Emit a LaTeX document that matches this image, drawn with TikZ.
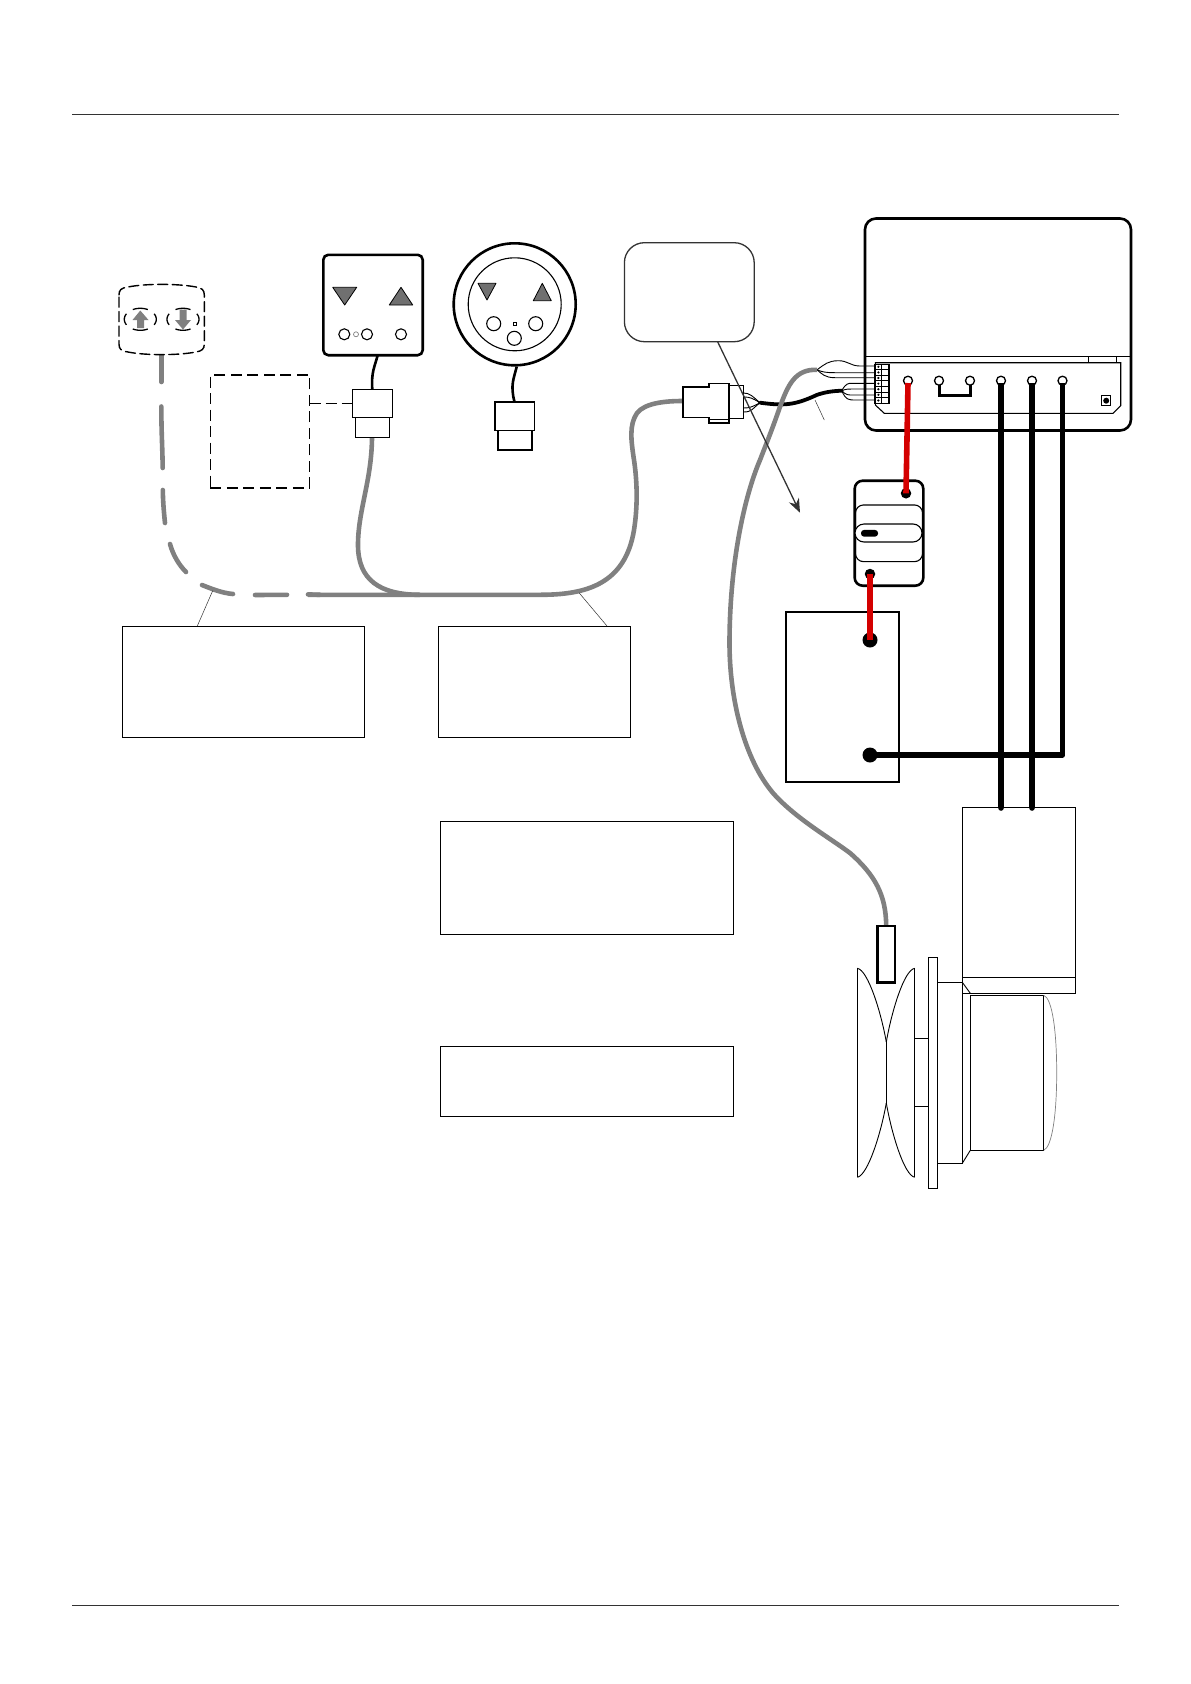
\documentclass[tikz,border=0pt]{standalone}
\usetikzlibrary{arrows.meta}
\definecolor{cablegray}{HTML}{808080}
\definecolor{cablered}{HTML}{D40000}
\definecolor{trigray}{HTML}{707070}
\definecolor{leaddark}{HTML}{333333}
\tikzset{
  rectnode/.style={draw=black,fill=white,inner sep=0pt,outer sep=0pt,rectangle},
  textbox/.style={rectnode,line width=0.9pt},
  plugbox/.style={rectnode,line width=1.6pt},
  graycable/.style={draw=cablegray,line width=4.6pt},
  graydash/.style={draw=cablegray,line width=4.6pt,line cap=round},
  blackcable/.style={draw=black,line width=5.6pt,line cap=round,line join=round},
  redcable/.style={draw=cablered,line width=5.6pt},
  thinwire/.style={draw=black,line width=0.9pt},
  termring/.style={circle,draw=black,fill=white,line width=1.3pt,minimum size=9pt,inner sep=0pt,outer sep=0pt},
  pinring/.style={circle,draw=black,fill=white,line width=1.1pt,inner sep=0pt,outer sep=0pt},
  blackdot/.style={circle,fill=black,inner sep=0pt,outer sep=0pt},
  tri/.style={fill=trigray,draw=black,line width=0.8pt,line join=round},
  engine/.style={draw=black,line width=0.9pt},
  rule/.style={draw=leaddark,line width=0.8pt},
  leader/.style={draw=leaddark,line width=0.5pt},
  dashbox/.style={draw=black,line width=1.1pt,dash pattern=on 11pt off 5.5pt},
  ringdash/.style={draw=black,line width=1.3pt},
}
\begin{document}
\begin{tikzpicture}[x=1pt,y=-1pt]
\useasboundingbox (0,0) rectangle (1191,1684);
\fill[white] (0,0) rectangle (1191,1684);

% page rules
\coordinate (ruleAL) at (72,114.6); \coordinate (ruleAR) at (1119,114.6);
\coordinate (ruleBL) at (72,1605.5); \coordinate (ruleBR) at (1119,1605.5);
\draw[rule] (ruleAL) -- (ruleAR);
\draw[rule] (ruleBL) -- (ruleBR);

% text boxes
\node[textbox,minimum width=241.7pt,minimum height=111.5pt] (t1) at (243.2,682) {};
\node[textbox,minimum width=192.5pt,minimum height=111.5pt] (t2) at (534.5,682) {};
\node[textbox,minimum width=293.5pt,minimum height=112.8pt] (t3) at (586.7,878) {};
\node[textbox,minimum width=293.5pt,minimum height=70pt] (t4) at (586.7,1081) {};

% gray main cable
\coordinate (jA) at (308,594.8);
\coordinate (jB) at (540,594.8);
\coordinate (plugL) at (682.7,401);
\draw[graycable] (jA) -- (jB)
  .. controls (585,594.8) and (625,585) .. (634,530)
  .. controls (638,505) and (637,480) .. (634,460)
  .. controls (631,440) and (629,425) .. (637,413)
  .. controls (645,403) and (665,401) .. (plugL);
\coordinate (pa) at (372,436);
\draw[graycable] (pa) .. controls (372,480) and (358,510) .. (358,545)
  .. controls (358,580) and (380,594.8) .. (420,594.8);

% dashed gray cable
\coordinate (rb) at (161.3,355);
\draw[graydash,line cap=butt] (rb) -- (161.3,372);
\draw[graydash] (161.3,372) -- (161.3,382);
\draw[graydash] (161.3,406.5) .. controls (161.3,430) and (162.5,450) .. (162.7,468);
\draw[graydash] (162.8,490) .. controls (163,503) and (164,513) .. (165,523);
\draw[graydash] (170,544) .. controls (173,555) and (179,565) .. (186,572);
\draw[graydash] (202,585) .. controls (212,589) and (222,593) .. (233,594);
\draw[graydash] (255,595) -- (287,594.8);
\draw[graydash] (308,594.4) -- (320,594.8);

% remote
\draw[draw=black,line width=1.4pt,dash pattern=on 10pt off 4.5pt,line cap=round]
  (119,295) .. controls (119,290) and (121,288) .. (128,287)
  .. controls (145,283.5) and (178,283.5) .. (196,287)
  .. controls (202,288) and (204.3,290) .. (204.3,295)
  -- (204.3,344) .. controls (204.3,349) and (202,351) .. (196,352)
  .. controls (178,355.5) and (145,355.5) .. (128,352)
  .. controls (121,351) and (119,349) .. (119,344) -- cycle;
\fill[cablegray] (140.3,310.5) -- (148.5,320) -- (144,320) -- (144,328) -- (137,328) -- (137,320) -- (132.5,320) -- cycle;
\fill[cablegray] (183,329.5) -- (191,320) -- (186.5,320) -- (186.5,309.5) -- (179.5,309.5) -- (179.5,320) -- (175,320) -- cycle;
\foreach \cx in {140.3,183}{
  \foreach \sa/\ea in {150/210,-30/30,62/118,242/298}{
    \draw[ringdash] plot[domain=\sa:\ea,samples=9,smooth] ({\cx+16*cos(\x)},{319.3+11*sin(\x)});
  }
}

% dashed box and plug A
\node[rectnode,dashbox,fill=none,minimum width=99.4pt,minimum height=113pt] (dbox) at (260,431.5) {};
\node[rectnode,line width=1.3pt,minimum width=34pt,minimum height=20.4pt] (pA2) at (372.3,427.5) {};
\node[rectnode,line width=1.3pt,minimum width=40.4pt,minimum height=28pt] (pA1) at (372.5,403.3) {};
\draw[draw=black,line width=1pt,dash pattern=on 11pt off 5pt] (dbox.east |- pA1.west) -- (pA1.west);

% square panel
\node[rectnode,line width=2.6pt,rounded corners=5pt,minimum width=99.4pt,minimum height=100.4pt] (sq) at (373,305) {};
\draw[tri] (332.7,287.3) -- (356.7,287.3) -- (344.7,305) -- cycle;
\draw[tri] (389.3,305) -- (412.7,305) -- (401,287.3) -- cycle;
\node[pinring,minimum size=11pt] (sa) at (344.3,334.3) {};
\node[pinring,minimum size=11pt] (sb) at (367,334.3) {};
\node[pinring,draw=cablegray,line width=0.7pt,minimum size=5pt] (sc) at (356,334.3) {};
\node[pinring,minimum size=11pt] (sd) at (401,334.3) {};
\coordinate (sqb) at (377.7,355);
\draw[draw=black,line width=2.6pt] (sqb) .. controls (375,366) and (371,372) .. (372.3,389.3);

% round panel
\node[circle,draw=black,fill=white,line width=2.6pt,minimum size=122pt,inner sep=0pt,outer sep=0pt] (ro) at (514.7,304.3) {};
\node[circle,draw=black,fill=white,line width=1.1pt,minimum size=93pt,inner sep=0pt,outer sep=0pt] (ri) at (514.7,304.3) {};
\draw[tri] (478,283.3) -- (496,283.3) -- (487,300) -- cycle;
\draw[tri] (533.3,300.7) -- (551.3,300.7) -- (542.3,283.3) -- cycle;
\node[pinring,minimum size=14pt] (ra) at (493.7,323.7) {};
\node[pinring,minimum size=14pt] (rb2) at (535.7,323.7) {};
\node[pinring,minimum size=14pt] (rc) at (514.3,338.3) {};
\node[draw=black,line width=0.8pt,minimum size=3pt,inner sep=0pt] (rd) at (514.7,323.7) {};
\node[rectnode,line width=1.6pt,minimum width=34pt,minimum height=19.7pt] (pB2) at (514.7,440.2) {};
\node[rectnode,line width=1.6pt,minimum width=39.6pt,minimum height=28.6pt] (pB1) at (514.5,416) {};
\coordinate (rob) at (516.7,366.7);
\draw[draw=black,line width=2.6pt] (rob) .. controls (514,378) and (510,385) .. (pB1.north);

% leaders
\coordinate (la) at (212.7,590.7);
\coordinate (lb) at (579,592.7);
\draw[leader] (la) -- (197.3,626);
\draw[leader] (lb) -- (607,626);

% callout
\node[rectnode,draw=leaddark,line width=1.3pt,rounded corners=20pt,minimum width=129.8pt,minimum height=99pt] (call) at (689.3,292.2) {};

% controller
\node[rectnode,line width=2.6pt,rounded corners=11pt,minimum width=266pt,minimum height=212pt] (ctl) at (998,324.5) {};
\coordinate (cL) at (865,356.7); \coordinate (cR) at (1131,356.7);
\draw[draw=black,line width=1.5pt] (cL) -- (cR);
\draw[draw=black,line width=1.1pt] (875.3,362.7) -- (1120.7,362.7) -- (1120.7,405.7) -- (1113,413.3) -- (884.3,413.3) -- (875.3,405) -- cycle;
\draw[draw=black,line width=1pt] (1088,356.7) -- (1088,362.7);
\draw[draw=black,line width=1pt] (1116.7,356.7) -- (1116.7,362.7);
\node[rectnode,line width=1.1pt,minimum width=9pt,minimum height=10pt] (fuse) at (1106.2,400.7) {};
\node[blackdot,minimum size=6pt] (fused) at (1106.2,400.7) {};

% wires, plug side
\coordinate (fanU) at (817,369.8);
\coordinate (fanL) at (841.7,390.7);
\coordinate (fanP) at (760,402.7);
\draw[draw=black,line width=3.8pt,line cap=round] (fanP) .. controls (785,406) and (795,405) .. (816.7,395) .. controls (825,392) and (833,391) .. (fanL);
\foreach \n/\yy/\cx in {a/383.3/852,b/389/852,c/395/852,d/400/856}{
  \coordinate (tl\n) at (875,\yy);
  \draw[thinwire] (fanL) .. controls (846,\yy) and (848,\yy) .. (\cx,\yy) -- (tl\n);
}
\coordinate (tu1) at (875,366); \coordinate (tu2) at (875,372.7); \coordinate (tu3) at (875,377.7);
\draw[thinwire] (fanU) .. controls (825,364) and (828,361) .. (838,360.7) .. controls (848,360.5) and (850,366) .. (860,366) -- (tu1);
\draw[thinwire] (fanU) .. controls (822,372) and (826,372.7) .. (835,372.7) -- (tu2);
\draw[thinwire] (fanU) .. controls (822,374) and (825,377.7) .. (835,377.7) -- (tu3);
\foreach \yy/\a/\b in {393/750/396,397/750/398,408/750/407,412/752/409}{
  \draw[thinwire] (743.3,\yy) .. controls (\a,\yy) and (752,\b) .. (fanP);
}

% terminal block
\node[rectnode,line width=1.1pt,minimum width=14pt,minimum height=39.3pt] (block) at (882,383.7) {};
\foreach \i in {1,...,6}{ \draw[draw=black,line width=0.8pt] (875,364+5.61*\i) -- (889,364+5.61*\i); }
\draw[draw=black,line width=0.8pt] (881.7,364) -- (881.7,403.3);
\foreach \i in {0,...,6}{ \fill[black] (878.4,366.8+5.61*\i) circle (1.2); }

% plug body (gray cable side)
\draw[draw=black,line width=1.6pt,fill=white] (682.7,386.7) -- (708.7,386.7) -- (708.7,383.3) -- (729,383.3) -- (729,422.7) -- (708.7,422.7) -- (708.7,417.3) -- (682.7,417.3) -- cycle;
\draw[draw=black,line width=0.8pt] (708.7,419.8) -- (729,419.8);
\node[rectnode,line width=1.1pt,minimum width=14.3pt,minimum height=32.6pt] (pC2) at (736.2,402) {};

% thin leader
\coordinate (lc) at (815,400);
\draw[leader] (lc) -- (824.3,420);

% gray cable to sensor
\coordinate (sensT) at (886.2,926);
\draw[graycable] (fanU) .. controls (795,369) and (788,385) .. (780,406.7)
  .. controls (772,430) and (765,447) .. (760,460)
  .. controls (745,495) and (730,560) .. (729.5,640)
  .. controls (729,700) and (745,760) .. (773,793)
  .. controls (795,818) and (830,838) .. (850,853)
  .. controls (875,875) and (886,895) .. (sensT);

% callout arrow
\coordinate (arrEnd) at (800,512.7);
\draw[draw=leaddark,line width=1.3pt,-{Stealth[length=14pt,width=11pt]}] (call.south -| 717.6,0) -- (arrEnd);

% switch
\node[rectnode,line width=2.6pt,rounded corners=8pt,minimum width=68.6pt,minimum height=105pt] (sw) at (889,533.2) {};
\node[rectnode,fill=none,line width=1.1pt,rounded corners=8pt,minimum width=67pt,minimum height=56.7pt] (swband) at (889,533.3) {};
\node[rectnode,line width=1.1pt,rounded corners=9pt,minimum width=67pt,minimum height=18pt] (swpill) at (888.5,533) {};
\node[fill=black,rounded corners=3pt,minimum width=17pt,minimum height=6.7pt,inner sep=0pt] (swslot) at (869.5,533.3) {};
\node[blackdot,minimum size=10.5pt] (swT) at (906,493.3) {};
\node[blackdot,minimum size=10.5pt] (swB) at (870,574) {};

% battery
\node[rectnode,line width=2.2pt,minimum width=113pt,minimum height=170pt] (bat) at (842.3,697.3) {};
\node[blackdot,minimum size=15pt] (batP) at (870,640) {};
\node[blackdot,minimum size=15pt] (batN) at (870,755) {};

% terminals
\foreach \n/\xx in {a/908,b/939,c/970,d/1001,e/1032,f/1062.5}{
  \node[termring] (term\n) at (\xx,380.7) {};
}
\draw[draw=cablered,line width=5.6pt] (908,383) -- (swT.center);
\draw[redcable] (swB.center) -- (batP.center);
\draw[draw=black,line width=3pt,line join=miter] (termb.south) -- (939,395) -- (970,395) -- (termc.south);

% black cables
\coordinate (altA) at (1001,808);
\coordinate (altB) at (1032,808);
\node[rectnode,line width=1pt,minimum width=113.4pt,minimum height=186pt] (alt) at (1019,900.3) {};
\draw[blackcable,line cap=butt] (1001,383) -- (altA);
\draw[blackcable,line cap=butt] (1032,383) -- (altB);
\fill[black] (altA) circle (2.8); \fill[black] (altB) circle (2.8);
\draw[blackcable,line cap=butt] (batN.center) -- (1062.5,755) -- (1062.5,383);
\draw[engine] (962.3,977.3) -- (1075.7,977.3);

% sensor
\node[rectnode,line width=2.6pt,minimum width=17.7pt,minimum height=56.3pt] (sens) at (886.2,954.2) {};

% engine parts
\draw[engine] (857.3,968.3) -- (857.3,1177.3);
\draw[engine] (914.7,968.3) -- (914.7,1177.3);
\draw[engine] (886.3,1041.7) -- (886.3,1103.3);
\draw[engine] (857.3,968.3) .. controls (868,970) and (881,1012) .. (886.3,1042);
\draw[engine] (914.7,968.3) .. controls (904,970) and (891.5,1012) .. (886.3,1042);
\draw[engine] (857.3,1177.3) .. controls (868,1175) and (881,1133) .. (886.3,1103);
\draw[engine] (914.7,1177.3) .. controls (904,1175) and (891.5,1133) .. (886.3,1103);
\draw[engine] (914.7,1038.3) -- (928.3,1038.3);
\draw[engine] (914.7,1106.7) -- (928.3,1106.7);
\node[rectnode,line width=0.9pt,minimum width=9pt,minimum height=231pt] (flange) at (932.8,1072.8) {};
\draw[engine] (937.3,982.3) -- (962.3,982.3) -- (962.3,1163.3) -- (937.3,1163.3);
\draw[engine] (962.3,982.3) -- (970.3,993.3);
\draw[engine] (962.3,1163.3) -- (970.3,1150.3);
\node[rectnode,line width=0.9pt,minimum width=73.4pt,minimum height=155pt] (drum) at (1007,1072.8) {};
\draw[draw=cablegray,line width=0.7pt] (drum.north east) .. controls (1052,998) and (1056.7,1030) .. (1056.7,1072.8) .. controls (1056.7,1115) and (1052,1147) .. (drum.south east);
\end{tikzpicture}
\end{document}
